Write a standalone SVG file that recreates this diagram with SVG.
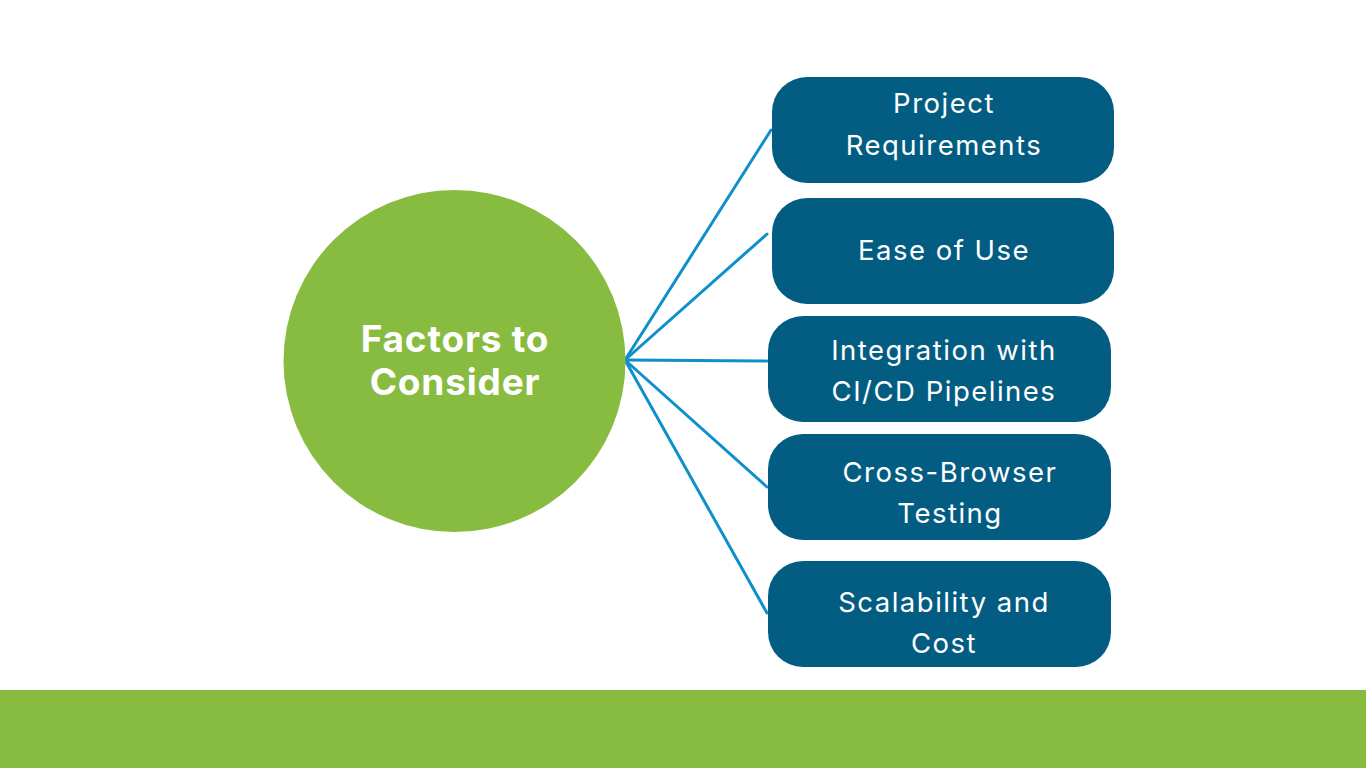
<svg xmlns="http://www.w3.org/2000/svg" width="1366" height="768" viewBox="0 0 1366 768">
<style>
.box{fill:#035D82}
.bt{font-family:Inter,"Noto Sans",sans-serif;font-size:27.5px;letter-spacing:1.5px;fill:#ffffff;text-anchor:middle}
.ct{font-family:Inter,"Noto Sans",sans-serif;font-size:37px;letter-spacing:0.8px;font-weight:bold;fill:#ffffff;text-anchor:middle}
.con line{stroke:#0F8FCB;stroke-width:3;stroke-linecap:round}
</style>
<rect x="0" y="0" width="1366" height="768" fill="#ffffff"/>
<rect x="0" y="690" width="1366" height="78" fill="#88BC41"/>
<g class="con" id="connectors">
<line x1="625" y1="360" x2="771" y2="130"/>
<line x1="625" y1="360" x2="767" y2="234"/>
<line x1="625" y1="360" x2="767" y2="361"/>
<line x1="625" y1="360" x2="767" y2="487"/>
<line x1="625" y1="360" x2="767" y2="613"/>
</g>
<g id="center">
<circle cx="454.5" cy="361" r="171" fill="#88BC41"/>
<text class="ct" x="455" y="352">Factors to</text>
<text class="ct" x="455" y="395">Consider</text>
</g>
<g id="n1">
<rect class="box" x="772" y="77" width="342" height="106" rx="35"/>
<text class="bt" x="944" y="113">Project</text>
<text class="bt" x="944" y="155">Requirements</text>
</g>
<g id="n2">
<rect class="box" x="772" y="198" width="342" height="106" rx="35"/>
<text class="bt" x="944" y="260">Ease of Use</text>
</g>
<g id="n3">
<rect class="box" x="768" y="316" width="343" height="106" rx="35"/>
<text class="bt" x="944" y="360">Integration with</text>
<text class="bt" x="944" y="401">CI/CD Pipelines</text>
</g>
<g id="n4">
<rect class="box" x="768" y="434" width="343" height="106" rx="35"/>
<text class="bt" x="950" y="482">Cross-Browser</text>
<text class="bt" x="950" y="523">Testing</text>
</g>
<g id="n5">
<rect class="box" x="768" y="561" width="343" height="106" rx="35"/>
<text class="bt" x="944" y="612">Scalability and</text>
<text class="bt" x="944" y="653">Cost</text>
</g>
</svg>
